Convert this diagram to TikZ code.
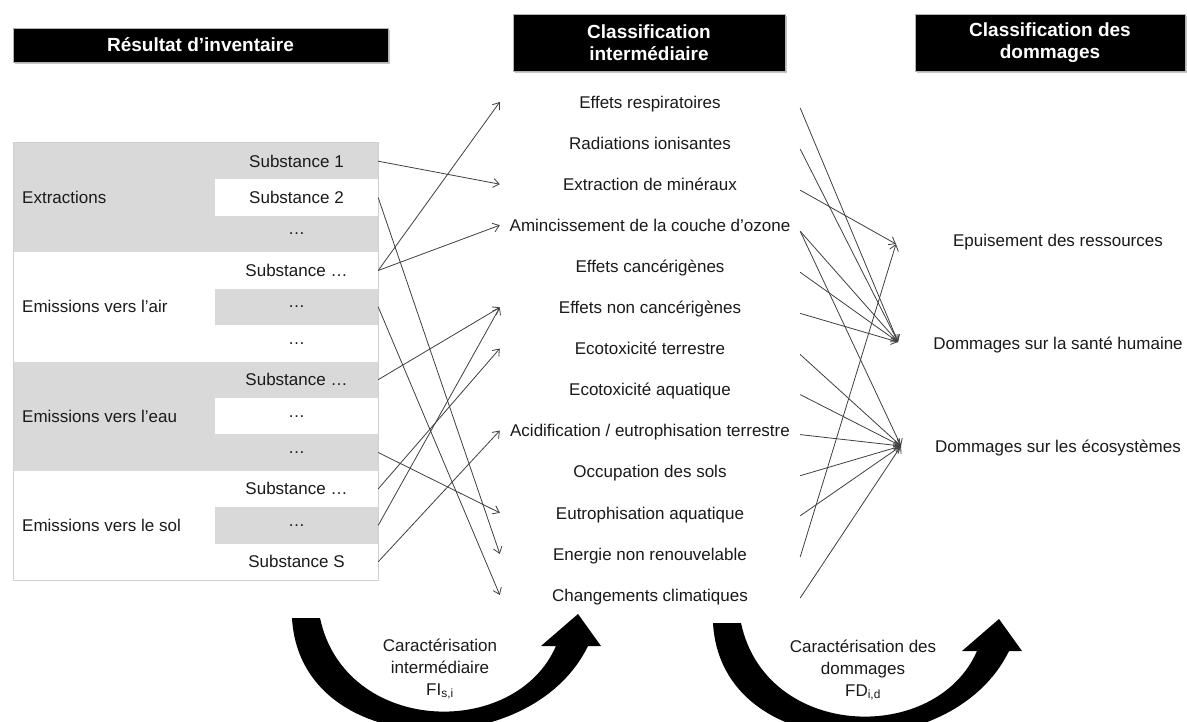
\documentclass[tikz,border=0pt]{standalone}
\usepackage{fontspec}
\setmainfont{Liberation Sans}
\usetikzlibrary{arrows.meta,shadows}
\definecolor{cellgray}{HTML}{D9D9D9}
\definecolor{tblborder}{HTML}{D0D0D0}
\definecolor{ink}{HTML}{1A1A1A}
\tikzset{
  hdr/.style={fill=black, draw=gray!60, line width=0.8pt, text=white,
    font=\fontsize{19}{22}\selectfont\bfseries, align=center, inner sep=0pt,
    drop shadow={shadow xshift=2pt, shadow yshift=-2pt, opacity=0.45}},
  txt/.style={font=\fontsize{17}{22}\selectfont, text=ink},
  cell/.style={txt, minimum width=163pt, minimum height=36.4pt, inner sep=0pt},
  grp/.style={txt, anchor=west, inner sep=0pt},
  mid/.style={txt, minimum width=300pt, text height=12pt, text depth=3.5pt, inner sep=0pt},
  conn/.style={draw=black!75, line width=0.8pt, -{Straight Barb[length=6pt,width=9pt]}},
  crescent/.pic={
    \fill[black] (292,618) .. controls (300,760) and (530,765) .. (588,646)
      -- (601,646) -- (578,614) -- (541,646) -- (556,646)
      .. controls (515,740) and (345,735) .. (320,618) -- cycle;
  }
}
\begin{document}
\begin{tikzpicture}[x=1pt,y=-1pt]
\useasboundingbox (0,0) rectangle (1187,722);
\fill[white] (0,0) rectangle (1187,722);

% headers
\node[hdr, minimum width=375pt, minimum height=34pt] (h1) at (200.5,45) {Résultat d’inventaire};
\node[hdr, minimum width=272pt, minimum height=57pt] (h2) at (649,42.5) {Classification\\intermédiaire};
\node[hdr, minimum width=270pt, minimum height=57pt] (h3) at (1050,42.5) {Classification des\\dommages};

% table bands
\fill[cellgray] (13,143) rectangle (378,252.25);
\fill[cellgray] (13,361.5) rectangle (378,470.75);

\node[cell] (r1) at (296.5,161.2) {Substance 1};
\node[cell, fill=white] (r2) at (296.5,197.6) {Substance 2};
\node[cell] (r3) at (296.5,234.0) {…};
\node[cell] (r4) at (296.5,270.5) {Substance …};
\node[cell, fill=cellgray] (r5) at (296.5,306.9) {…};
\node[cell] (r6) at (296.5,343.3) {…};
\node[cell] (r7) at (296.5,379.7) {Substance …};
\node[cell, fill=white] (r8) at (296.5,416.1) {…};
\node[cell] (r9) at (296.5,452.5) {…};
\node[cell] (r10) at (296.5,488.9) {Substance …};
\node[cell, fill=cellgray] (r11) at (296.5,525.4) {…};
\node[cell] (r12) at (296.5,561.8) {Substance S};

\draw[tblborder, line width=1pt] (13,143) rectangle (378,580);

\node[grp] (g1) at (22,197.6) {Extractions};
\node[grp] (g2) at (22,306.9) {Emissions vers l’air};
\node[grp] (g3) at (22,416.1) {Emissions vers l’eau};
\node[grp] (g4) at (22,525.4) {Emissions vers le sol};

% middle column
\node[mid] (m1) at (650,104) {Effets respiratoires};
\node[mid] (m2) at (650,145.1) {Radiations ionisantes};
\node[mid] (m3) at (650,186.2) {Extraction de minéraux};
\node[mid] (m4) at (650,227.2) {Amincissement de la couche d’ozone};
\node[mid] (m5) at (650,268.3) {Effets cancérigènes};
\node[mid] (m6) at (650,309.4) {Effets non cancérigènes};
\node[mid] (m7) at (650,350.5) {Ecotoxicité terrestre};
\node[mid] (m8) at (650,391.6) {Ecotoxicité aquatique};
\node[mid] (m9) at (650,432.6) {Acidification / eutrophisation terrestre};
\node[mid] (m10) at (650,473.7) {Occupation des sols};
\node[mid] (m11) at (650,514.8) {Eutrophisation aquatique};
\node[mid] (m12) at (650,555.9) {Energie non renouvelable};
\node[mid] (m13) at (650,597) {Changements climatiques};

% right column
\node[txt] (d1) at (1058,242) {Epuisement des ressources};
\node[txt] (d2) at (1058,345) {Dommages sur la santé humaine};
\node[txt] (d3) at (1058,448) {Dommages sur les écosystèmes};
\coordinate (hub1) at (896,244);
\coordinate (hub2) at (898,342);
\coordinate (hub3) at (901,446);

% left -> middle
\draw[conn] (r1.east) -- ([yshift=2pt]m3.west);
\draw[conn] (r2.east) -- ([yshift=2pt]m12.west);
\draw[conn] (r4.east) -- ([yshift=2pt]m1.west);
\draw[conn] (r4.east) -- ([yshift=2pt]m4.west);
\draw[conn] (r5.east) -- ([yshift=2pt]m13.west);
\draw[conn] (r7.east) -- ([yshift=2pt]m6.west);
\draw[conn] (r9.east) -- ([yshift=2pt]m11.west);
\draw[conn] (r10.east) -- ([yshift=2pt]m7.west);
\draw[conn] (r11.east) -- ([yshift=2pt]m6.west);
\draw[conn] (r12.east) -- ([yshift=2pt]m9.west);

% middle -> right
\draw[conn] ([yshift=-4pt]m1.east) -- (hub2);
\draw[conn] ([yshift=-4pt]m2.east) -- (hub2);
\draw[conn] ([yshift=-4pt]m3.east) -- (hub1);
\draw[conn] ([yshift=-4pt]m4.east) -- (hub2);
\draw[conn] ([yshift=-4pt]m4.east) -- (hub3);
\draw[conn] ([yshift=-4pt]m5.east) -- (hub2);
\draw[conn] ([yshift=-4pt]m6.east) -- (hub2);
\draw[conn] ([yshift=-4pt]m7.east) -- (hub3);
\draw[conn] ([yshift=-3pt]m8.east) -- (hub3);
\draw[conn] ([yshift=-2pt]m9.east) -- (hub3);
\draw[conn] ([yshift=-2pt]m10.east) -- (hub3);
\draw[conn] ([yshift=-1pt]m11.east) -- (hub3);
\draw[conn] ([yshift=-1pt]m12.east) -- (hub1);
\draw[conn] ([yshift=-1pt]m13.east) -- (hub3);

% curved arrows
\begin{scope}
\clip (0,0) rectangle (1187,722);
\pic at (0,0) {crescent};
\pic at (421,5) {crescent};
\end{scope}
\node[txt, align=center] (c1) at (440,669) {Caractérisation\\intermédiaire\\FI\textsubscript{s,i}};
\node[txt, align=center] (c2) at (863,670) {Caractérisation des\\dommages\\FD\textsubscript{i,d}};
\end{tikzpicture}
\end{document}
